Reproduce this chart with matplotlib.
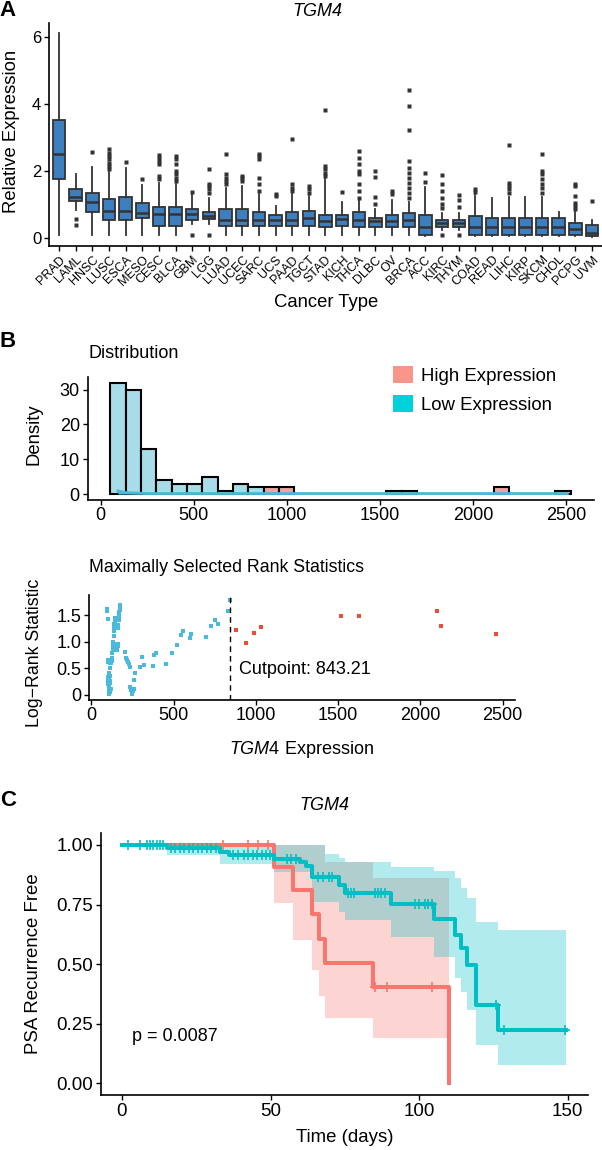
import matplotlib
matplotlib.use('Agg')
import matplotlib.pyplot as plt
from matplotlib.patches import Patch
import numpy as np

plt.rcParams['font.family'] = ['Liberation Sans', 'DejaVu Sans']
plt.rcParams['mathtext.fontset'] = 'custom'
plt.rcParams['mathtext.it'] = 'Liberation Sans:italic'
plt.rcParams['mathtext.rm'] = 'Liberation Sans'

# ---------------- data ----------------
# Panel A: TGM4 expression per cancer type (box statistics)
cancers = ['PRAD', 'LAML', 'HNSC', 'LUSC', 'ESCA', 'MESO', 'CESC', 'BLCA', 'GBM', 'LGG', 'LUAD',
           'UCEC', 'SARC', 'UCS', 'PAAD', 'TGCT', 'STAD', 'KICH', 'THCA', 'DLBC', 'OV', 'BRCA',
           'ACC', 'KIRC', 'THYM', 'COAD', 'READ', 'LIHC', 'KIRP', 'SKCM', 'CHOL', 'PCPG', 'UVM']
box_med = [2.50, 1.23, 1.08, 0.81, 0.81, 0.73, 0.71, 0.71, 0.70, 0.65, 0.53, 0.53, 0.53, 0.53, 0.53,
           0.60, 0.50, 0.55, 0.53, 0.50, 0.50, 0.53, 0.33, 0.45, 0.45, 0.33, 0.33, 0.33, 0.33, 0.33,
           0.33, 0.25, 0.14]
box_q1 = [1.75, 1.11, 0.76, 0.53, 0.53, 0.58, 0.36, 0.36, 0.53, 0.55, 0.36, 0.36, 0.36, 0.36, 0.36,
          0.35, 0.33, 0.36, 0.33, 0.33, 0.33, 0.33, 0.08, 0.33, 0.33, 0.08, 0.08, 0.08, 0.08, 0.08,
          0.08, 0.08, 0.05]
box_q3 = [3.53, 1.45, 1.35, 1.15, 1.21, 1.05, 0.93, 0.93, 0.85, 0.78, 0.85, 0.85, 0.78, 0.68, 0.78,
          0.80, 0.68, 0.68, 0.78, 0.58, 0.68, 0.73, 0.68, 0.53, 0.53, 0.65, 0.58, 0.58, 0.58, 0.58,
          0.58, 0.43, 0.38]
box_lo = [0.08, 0.83, 0.08, 0.08, 0.08, 0.08, 0.08, 0.08, 0.40, 0.40, 0.08, 0.08, 0.08, 0.08, 0.08,
          0.08, 0.08, 0.08, 0.08, 0.08, 0.08, 0.08, 0.05, 0.22, 0.22, 0.05, 0.05, 0.05, 0.05, 0.05,
          0.05, 0.05, 0.03]
box_hi = [6.13, 1.90, 2.13, 1.98, 2.08, 1.58, 1.65, 1.60, 1.30, 1.20, 1.50, 1.55, 1.30, 0.95, 1.30,
          1.26, 1.76, 1.08, 1.13, 0.85, 1.13, 1.08, 1.53, 0.73, 0.73, 1.28, 1.18, 1.23, 1.23, 1.23,
          0.78, 0.76, 0.53]
box_out = [[], [0.55, 0.38], [2.58],
           [2.05, 2.15, 2.25, 2.35, 2.45, 2.55, 2.65], [2.28], [1.76],
           [1.75, 1.85, 2.20, 2.30, 2.40, 2.48], [1.70, 1.80, 1.90, 2.00, 2.20, 2.35, 2.45],
           [1.37, 0.08], [1.35, 1.45, 1.55, 1.62, 2.05, 0.08],
           [1.60, 1.70, 1.80, 1.90, 2.50], [1.70, 1.80, 1.85],
           [1.40, 1.60, 1.80, 2.35, 2.45, 2.50], [1.25, 1.32], [1.40, 1.50, 1.60, 2.95],
           [1.35, 1.45, 1.55], [1.85, 1.95, 2.05, 2.15, 3.83], [1.36],
           [1.20, 1.40, 1.60, 1.90, 2.00, 2.20, 2.40, 2.60], [1.00, 1.23, 1.83, 2.00], [1.30, 1.40],
           [1.20, 1.35, 1.50, 1.65, 1.80, 1.95, 2.10, 2.30, 3.23, 3.93, 4.43], [1.67, 1.95],
           [0.90, 1.00, 1.20, 1.40, 1.60, 1.88, 0.08], [0.93, 1.13, 1.28, 0.08], [1.38, 1.45],
           [], [1.35, 1.45, 1.55, 1.65, 2.78], [], [1.35, 1.50, 1.60, 1.75, 1.90, 2.00, 2.50], [],
           [0.85, 0.95, 1.05, 1.25, 1.55, 1.60], [1.10]]

# Panel B: histogram of TGM4 expression (bin counts) and cutpoint scan
hist_start = 52
hist_width = 82.4
hist_counts = [32, 30, 13, 4, 3, 3, 5, 1, 3, 2, 2, 2, 0, 0, 0, 0, 0, 0, 1, 1, 0, 0, 0, 0, 0, 2, 0,
               0, 0, 1]
dens_x = [93, 130, 250, 2507]
dens_y = [0.9, 0.45, 0.15, 0.15]
cutpoint = 843.21

low_rank_x = [97, 97, 98, 98, 99, 100, 101, 102, 103, 104, 105, 106, 107, 108, 109, 110, 111, 112,
              113, 114, 115, 116,
              118, 120, 122, 124, 126, 128, 130, 132, 134, 136, 138, 140, 142, 144, 146, 148,
              150, 153, 156, 159, 162, 160, 163, 165, 167, 169, 171, 173, 175, 176,
              205, 210, 217, 222, 228, 232, 236, 240, 244, 248, 252, 256, 260, 263,
              298, 310, 322, 375, 380, 392, 455, 492, 520, 545, 555, 601, 608, 695, 725, 753, 771,
              830, 841]
low_rank_y = [1.62, 1.57, 1.42, 0.66, 0.62, 0.24, 0.20, 0.33, 0.28, 0.38, 0.10, 0.02, 0.15, 0.30,
              0.42, 0.05, 0.22, 0.35, 0.50, 0.27, 0.60, 0.12,
              0.62, 0.60, 0.63, 0.70, 0.78, 0.85, 0.92, 1.00, 1.10, 1.20, 1.28, 1.33, 1.38, 1.45,
              0.95, 0.93,
              0.90, 0.88, 0.85, 0.96, 0.92, 1.25, 1.32, 1.40, 1.48, 1.55, 1.60, 1.65, 1.68, 1.62,
              0.81, 0.70, 0.66, 0.62, 0.59, 0.53, 0.15, 0.10, 0.05, 0.02, 0.08, 0.12, 0.28, 0.42,
              0.53, 0.72, 0.56, 0.54, 0.75, 0.78, 0.58, 0.79, 0.94, 1.12, 1.20, 1.06, 1.14, 1.08,
              1.30, 1.40, 1.33, 1.58, 1.79]
high_rank_x = [881, 939, 991, 1028, 1518, 1627, 2098, 2128, 2462]
high_rank_y = [1.21, 0.98, 1.16, 1.27, 1.49, 1.48, 1.58, 1.30, 1.14]

# Panel C: Kaplan-Meier, PSA recurrence free
low_t = [0, 15, 33, 36, 51, 60, 62, 64, 68.4, 73, 75, 90.5, 105, 112, 114, 116, 119, 126.5, 149.5]
low_s = [1.0, 0.986, 0.972, 0.958, 0.942, 0.93, 0.91, 0.865, 0.865, 0.832, 0.80, 0.752, 0.688,
         0.622, 0.566, 0.496, 0.33, 0.224, 0.224]
low_upper = [1.0, 1.0, 1.0, 1.0, 1.0, 1.0, 1.0, 1.0, 0.962, 0.944, 0.93, 0.909, 0.892, 0.86,
             0.818, 0.776, 0.678, 0.643, 0.643]
low_lower = [1.0, 0.958, 0.919, 0.919, 0.888, 0.888, 0.888, 0.762, 0.762, 0.72, 0.685, 0.615,
             0.53, 0.44, 0.384, 0.307, 0.16, 0.077, 0.077]
low_cens = [2, 6, 8.3, 9.4, 10.5, 11.7, 12.8, 13.9, 16.6, 18, 19.5, 21, 22.5, 24, 25.5, 27, 28.5,
            30, 31.8, 37.4, 39, 41, 42.5, 44, 45.5, 47, 48.5, 49.8, 55.4, 57, 58.5, 66, 67.5,
            69.5, 70.7, 76, 77, 78, 85, 86, 87, 88.5, 98.7, 100, 102, 103, 104.3, 126, 128.6,
            149.2]

high_t = [0, 51, 57.4, 64, 66.2, 68.4, 84.4, 110.2]
high_s = [1.0, 0.909, 0.812, 0.71, 0.606, 0.506, 0.405, 0.0]
high_upper = [1.0, 1.0, 1.0, 1.0, 1.0, 0.93, 0.86, 0.86]
high_lower = [1.0, 0.755, 0.60, 0.475, 0.366, 0.272, 0.189, 0.189]
high_cens = [34, 42.5, 45.8, 49.2, 85, 89.3, 104.3]

# ---------------- figure ----------------
W, H = 602, 1150
fig = plt.figure(figsize=(W / 100, H / 100), dpi=100)


def px_axes(l, t, r, b):
    return fig.add_axes([l / W, 1 - b / H, (r - l) / W, (b - t) / H])


def ftext(x, y, s, **kw):
    kw.setdefault('ha', 'center')
    kw.setdefault('va', 'center')
    return fig.text(x / W, 1 - y / H, s, **kw)


def classic(ax, size):
    for s in ['top', 'right']:
        ax.spines[s].set_visible(False)
    for s in ['left', 'bottom']:
        ax.spines[s].set_linewidth(1.2)
    ax.tick_params(length=3.5, width=1.0, labelsize=size, colors='black', pad=2)


# ---- A ----
axA = px_axes(49, 23, 602, 246)
stats = []
for i, name in enumerate(cancers):
    stats.append(dict(med=box_med[i], q1=box_q1[i], q3=box_q3[i], whislo=box_lo[i],
                      whishi=box_hi[i], fliers=box_out[i], label=name))
edge = '#333333'
axA.bxp(stats, positions=np.arange(1, len(cancers) + 1), widths=0.75, showcaps=False,
        patch_artist=True,
        boxprops=dict(facecolor='#3C7EBE', edgecolor=edge, linewidth=1.3),
        whiskerprops=dict(color=edge, linewidth=1.3),
        medianprops=dict(color=edge, linewidth=1.8),
        flierprops=dict(marker='s', markersize=2.3, markerfacecolor=edge,
                        markeredgecolor='none'))
axA.set_xlim(0.4, len(cancers) + 0.6)
axA.set_ylim(-0.25, 6.43)
axA.set_yticks([0, 2, 4, 6])
classic(axA, 12)
axA.set_xticks(np.arange(1, len(cancers) + 1))
axA.set_xticklabels(cancers, rotation=45, ha='right', va='top', rotation_mode='anchor',
                    fontsize=9)

ftext(8, 11, 'A', fontsize=16, weight='bold')
ftext(317, 12, 'TGM4', fontsize=13, fontstyle='italic')
ftext(12, 131, 'Relative Expression', fontsize=13.3, rotation=90)
ftext(326, 303, 'Cancer Type', fontsize=13.3)

# ---- B: histogram ----
blue_bar = '#A8DCE9'
red_bar = '#F2A39B'
axH = px_axes(87.5, 377, 594, 499.6)
lefts = [hist_start + k * hist_width for k in range(len(hist_counts))]
for left, cnt in zip(lefts, hist_counts):
    if cnt == 0:
        continue
    col = red_bar if left >= cutpoint else blue_bar
    axH.bar(left, cnt, width=hist_width, align='edge', color=col, edgecolor='black',
            linewidth=1.5)
axH.fill_between(dens_x, 0, dens_y, color='#4DB8D8', linewidth=0)
axH.plot(dens_x, dens_y, color='#4DB8D8', linewidth=2)
axH.set_xlim(-70.4, 2650)
axH.set_ylim(-1.6, 33.6)
axH.set_yticks([0, 10, 20, 30])
axH.set_xticks([0, 500, 1000, 1500, 2000, 2500])
classic(axH, 13)

ftext(8, 342, 'B', fontsize=16, weight='bold')
ftext(88, 353, 'Distribution', fontsize=13, ha='left')
ftext(34, 434, 'Density', fontsize=13.3, rotation=90)
handles = [Patch(facecolor='#F9968B', edgecolor='none', label='High Expression'),
           Patch(facecolor='#00D2DC', edgecolor='none', label='Low Expression')]
fig.legend(handles=handles, loc='upper left', bbox_to_anchor=(393 / W, 1 - 366 / H),
           frameon=False, fontsize=13.4, handlelength=1.1, handleheight=1.0,
           handletextpad=0.4, labelspacing=0.55, borderpad=0, borderaxespad=0)

# ---- B: rank statistics ----
axS = px_axes(89, 595.3, 515, 699.7)
axS.scatter(low_rank_x, low_rank_y, marker='s', s=6, color='#4BB9D9', linewidths=0)
axS.scatter(high_rank_x, high_rank_y, marker='s', s=6, color='#EE4B3A', linewidths=0)
axS.axvline(cutpoint, color='black', linestyle=(0, (4, 3)), linewidth=1.0)
axS.text(900, 0.48, 'Cutpoint: 843.21', fontsize=13, ha='left', va='center')
axS.set_xlim(-15, 2575)
axS.set_ylim(-0.089, 1.87)
axS.set_yticks([0, 0.5, 1.0, 1.5])
axS.set_yticklabels(['0', '0.5', '1.0', '1.5'])
axS.set_xticks([0, 500, 1000, 1500, 2000, 2500])
classic(axS, 13)

ftext(89, 567, 'Maximally Selected Rank Statistics', fontsize=12.8, ha='left')
ftext(35, 653, 'Log\u2212Rank Statistic', fontsize=12.8, rotation=90)
ftext(301, 750, r'$\mathit{TGM4}$ Expression', fontsize=13)

# ---- C: Kaplan-Meier ----
red = '#F8766D'
teal = '#00BFC4'
axC = px_axes(100.6, 833, 588.5, 1095.2)
axC.fill_between(high_t, high_lower, high_upper, step='post', color=red, alpha=0.3,
                 linewidth=0)
axC.fill_between(low_t, low_lower, low_upper, step='post', color=teal, alpha=0.3, linewidth=0)
axC.step(high_t, high_s, where='post', color=red, linewidth=2.9)
axC.step(low_t, low_s, where='post', color=teal, linewidth=2.9)


def surv_at(times, surv, t):
    idx = np.searchsorted(times, t, side='right') - 1
    return np.asarray(surv)[idx]


axC.plot(high_cens, surv_at(high_t, high_s, high_cens), linestyle='none', marker='+',
         markersize=7, markeredgewidth=1.2, color=red)
axC.plot(low_cens, surv_at(low_t, low_s, low_cens), linestyle='none', marker='+',
         markersize=7, markeredgewidth=1.2, color=teal)
axC.text(3.4, 0.196, 'p = 0.0087', fontsize=13, ha='left', va='center')
axC.set_xlim(-7.2, 157)
axC.set_ylim(-0.05, 1.05)
axC.set_yticks([0, 0.25, 0.5, 0.75, 1.0])
axC.set_yticklabels(['0.00', '0.25', '0.50', '0.75', '1.00'])
axC.set_xticks([0, 50, 100, 150])
classic(axC, 13.5)

ftext(8, 800, 'C', fontsize=16, weight='bold')
ftext(324, 805, 'TGM4', fontsize=13, fontstyle='italic')
ftext(34, 964, 'PSA Recurrence Free', fontsize=13.4, rotation=90)
ftext(345, 1138, 'Time (days)', fontsize=13.4)

fig.savefig('out.png', dpi=100)
